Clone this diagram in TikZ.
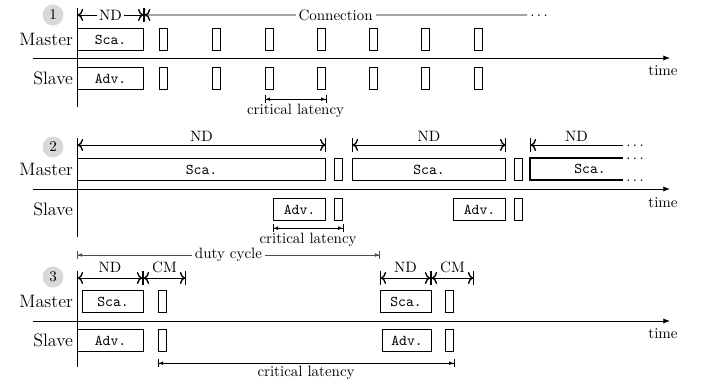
\documentclass[tikz,border=0pt]{standalone}
\usetikzlibrary{arrows.meta}

\newcommand{\pxl}{0.6667pt}
% packet box from x=#2 to x=#3, top edge at y=#4
\newcommand{\mkpkt}[5]{\node[pkt, minimum width={(#3-#2)*\pxl}, anchor=north west] (#1) at (#2,#4) {#5};}
% short packet of a connection event
\newcommand{\mkslot}[3]{\node[pkt, minimum width={8*\pxl}, anchor=north west] (#1) at (#2,#3) {};}

\begin{document}
\begin{tikzpicture}[
    x=\pxl, y=-\pxl,
    pkt/.style={draw, thick, inner sep=0pt, minimum height={22*\pxl}, font=\ttfamily},
    role/.style={font=\large, anchor=east, inner sep=2.5pt},
    num/.style={circle, fill=gray!30, minimum size=14pt, inner sep=0pt},
    axis/.style={semithick, -{Latex[length=4.5pt, width=3.5pt]}},
    dim/.style={semithick, {Bar[width=9pt]To[length=3.5pt, width=8pt, line width=0.9pt]}-{To[length=3.5pt, width=8pt, line width=0.9pt]Bar[width=9pt]}},
    opendim/.style={semithick, {Bar[width=9pt]To[length=3.5pt, width=8pt, line width=0.9pt]}-},
    lat/.style={thin, {Bar[width=5pt]Latex[length=3pt, width=2.5pt]}-{Latex[length=3pt, width=2.5pt]Bar[width=5pt]}},
    duty/.style={lat, draw=black!70},
    more/.style={anchor=west, inner sep=2pt, yshift=-1pt}
]
    \useasboundingbox (0,0) rectangle (702,381);

    % Panel 1: discovery, then connection
    \node[num] (c1) at (53,15) {1};
    \draw[semithick] (77,8) -- (77,107);
    \draw[axis] (33,58) -- (670,58);
    \node (t1) at (663,71) {time};
    \node[role] (m1) at (77,39) {Master};
    \node[role] (s1) at (77,78) {Slave};
    \mkpkt{sca1}{77}{143}{28}{Sca.}
    \mkpkt{adv1}{77}{143}{67}{Adv.}
    \foreach \x [count=\i] in {159,212,265,317,369,421,474}{
        \mkslot{ms\i}{\x}{28}
        \mkslot{ss\i}{\x}{67}
    }
    \draw[dim] ([yshift=8.67pt]sca1.north west) -- ([yshift=8.67pt]sca1.north east)
        node[midway, fill=white, inner sep=1.5pt] (nd1) {ND};
    \coordinate (conend) at (527,15);
    \draw[opendim] ([yshift=8.67pt]sca1.north east) -- (conend)
        node[midway, fill=white, inner sep=2pt] (con) {Connection};
    \node[more] (dots1) at (conend) {$\cdots$};
    \draw[lat] ([yshift=-6pt]ss3.south west) -- ([yshift=-6pt]ss4.south east)
        node[midway, below] (cl1) {critical latency};

    % Panel 2: long scan windows
    \node[num] (c2) at (53,147) {2};
    \draw[semithick] (77,138) -- (77,237);
    \draw[axis] (33,189) -- (670,189);
    \node (t2) at (663,203) {time};
    \node[role] (m2) at (77,169) {Master};
    \node[role] (s2) at (77,209) {Slave};
    \mkpkt{sca21}{77}{325}{158}{Sca.}
    \mkslot{ms21}{334}{158}
    \mkpkt{sca22}{352}{505}{158}{Sca.}
    \mkslot{ms22}{514}{158}
    \mkpkt{adv21}{273}{325}{198}{Adv.}
    \mkslot{ss21}{334}{198}
    \mkpkt{adv22}{453}{505}{198}{Adv.}
    \mkslot{ss22}{514}{198}
    % open scan window
    \coordinate (w3a) at (623,158);
    \coordinate (w3b) at (530,158);
    \coordinate (w3c) at (530,180);
    \coordinate (w3d) at (623,180);
    \draw[thick] (w3a) -- (w3b) -- (w3c) -- (w3d);
    \node[font=\ttfamily] (sca23) at (590,169) {Sca.};
    \node[more] (dots2) at (w3a) {$\cdots$};
    \node[more] (dots3) at (w3d) {$\cdots$};
    \draw[dim] ([yshift=8.67pt]sca21.north west) -- ([yshift=8.67pt]sca21.north east)
        node[midway, above, inner sep=2pt] (nd21) {ND};
    \draw[dim] ([yshift=8.67pt]sca22.north west) -- ([yshift=8.67pt]sca22.north east)
        node[midway, above, inner sep=2pt] (nd22) {ND};
    \coordinate (nd3a) at (530,145);
    \coordinate (nd3b) at (623,145);
    \draw[opendim] (nd3a) -- (nd3b) node[midway, above, inner sep=2pt] (nd23) {ND};
    \node[more] (dots4) at (nd3b) {$\cdots$};
    \draw[lat] ([yshift=-4.67pt]adv21.south west) -- ([yshift=-4.67pt]ss21.south east)
        node[midway, below] (cl2) {critical latency};

    % Panel 3: duty cycled discovery
    \node[num] (c3) at (53,277) {3};
    \draw[semithick] (77,271) -- (77,367);
    \draw[axis] (33,321) -- (670,321);
    \node (t3) at (663,334) {time};
    \node[role] (m3) at (77,301) {Master};
    \node[role] (s3) at (77,340) {Slave};
    \mkpkt{sca31}{82}{143}{290}{Sca.}
    \mkslot{ms31}{158}{290}
    \mkpkt{sca32}{380}{431}{290}{Sca.}
    \mkslot{ms32}{445}{290}
    \mkpkt{adv31}{77}{143}{329}{Adv.}
    \mkslot{ss31}{158}{329}
    \mkpkt{adv32}{382}{431}{329}{Adv.}
    \mkslot{ss32}{445}{329}
    \coordinate (dc0) at (77,255);
    \coordinate (dc1) at (380,255);
    \draw[duty] (dc0) -- (dc1) node[midway, fill=white, inner sep=2pt, text=black] (dc) {duty cycle};
    \coordinate (w0) at (77,278);
    \coordinate (w1) at (143,278);
    \coordinate (w2) at (186,278);
    \coordinate (w3) at (380,278);
    \coordinate (w4) at (431,278);
    \coordinate (w5) at (474,278);
    \draw[dim] (w0) -- (w1) node[midway, above] (nd31) {ND};
    \draw[dim] (w1) -- (w2) node[midway, above] (cm31) {CM};
    \draw[dim] (w3) -- (w4) node[midway, above] (nd32) {ND};
    \draw[dim] (w4) -- (w5) node[midway, above] (cm32) {CM};
    \draw[lat] ([yshift=-7.33pt]ss31.south west) -- ([yshift=-7.33pt]ss32.south east)
        node[midway, below, inner sep=2pt] (cl3) {critical latency};

\end{tikzpicture}
\end{document}
